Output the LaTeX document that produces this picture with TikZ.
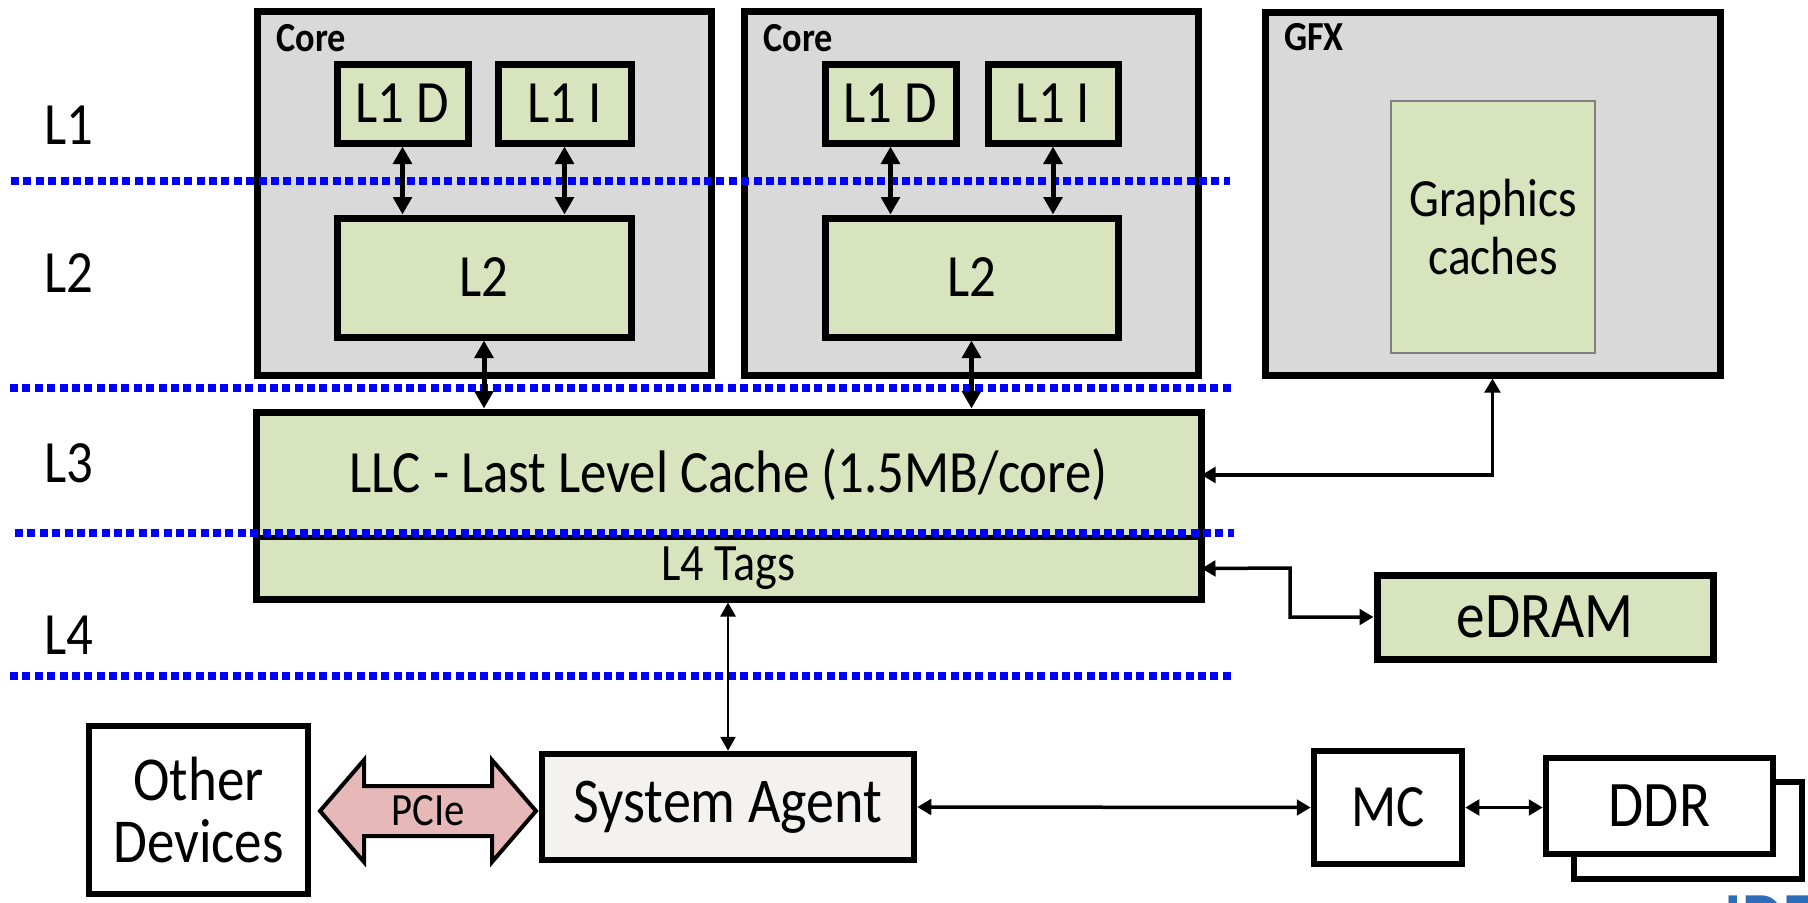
\documentclass[tikz,border=0pt]{standalone}
\usepackage{fontspec}
\setmainfont{Carlito}[FakeStretch=0.88]
\usetikzlibrary{arrows.meta,fit,calc}
\definecolor{coregray}{HTML}{D9D9D9}
\definecolor{cachegreen}{HTML}{D7E4BD}
\definecolor{pciepink}{HTML}{E6B9B8}
\definecolor{safill}{HTML}{F4F2EE}
\definecolor{idfblue}{HTML}{2E6DB8}
\begin{document}
\begin{tikzpicture}[x=0.4pt,y=-0.4pt,
  box/.style={draw=black, line width=2.8pt, inner sep=0pt},
  graybox/.style={box, fill=coregray},
  greenbox/.style={box, fill=cachegreen},
  whitebox/.style={draw=black, line width=2.6pt, inner sep=0pt, fill=white},
  bigtxt/.style={font=\fontsize{24}{28}\selectfont},
  lbltxt/.style={font=\bfseries\fontsize{16.5}{18}\selectfont, anchor=west, inner sep=0pt},
  lvl/.style={font=\fontsize{24}{28}\selectfont, anchor=west, inner sep=0pt},
  level/.style={draw=blue, line width=3.3pt, dash pattern=on 3.2pt off 1.75pt},
  thickconn/.style={line width=2pt, {Triangle[length=7pt,width=7.4pt]}-{Triangle[length=7pt,width=7.4pt]}},
  conn/.style={line width=1.4pt, {Triangle[length=5.6pt,width=6.2pt]}-{Triangle[length=5.6pt,width=6.2pt]}},
  thinconn/.style={line width=1.1pt, {Triangle[length=5.6pt,width=6pt]}-{Triangle[length=5.6pt,width=6pt]}}
]
\useasboundingbox (0,0) rectangle (1808,902);
\clip (0,0) rectangle (1808,902);

% level labels
\node[lvl] (lv1) at (44,125) {L1};
\node[lvl] (lv2) at (44,273) {L2};
\node[lvl] (lv3) at (44,463) {L3};
\node[lvl] (lv4) at (44,635) {L4};

% cores
\node[graybox, fit={(257,11) (711,375)}] (core1) {};
\node[lbltxt] (core1lbl) at (276,38) {Core};
\node[greenbox, fit={(337,64) (468,143)}] (l1d1) {};
\node[bigtxt] (l1d1t) at (l1d1.center) {L1 D};
\node[greenbox, fit={(498,64) (631,143)}] (l1i1) {};
\node[bigtxt] (l1i1t) at (l1i1.center) {L1 I};
\node[greenbox, fit={(337,218) (631,337)}] (l2a) {};
\node[bigtxt] (l2at) at (l2a.center) {L2};

\node[graybox, fit={(744,11) (1198,375)}] (core2) {};
\node[lbltxt] (core2lbl) at (763,38) {Core};
\node[greenbox, fit={(825,64) (956,143)}] (l1d2) {};
\node[bigtxt] (l1d2t) at (l1d2.center) {L1 D};
\node[greenbox, fit={(988,64) (1118,143)}] (l1i2) {};
\node[bigtxt] (l1i2t) at (l1i2.center) {L1 I};
\node[greenbox, fit={(825,218) (1118,337)}] (l2b) {};
\node[bigtxt] (l2bt) at (l2b.center) {L2};

% GFX
\node[graybox, fit={(1265,12) (1720,375)}] (gfx) {};
\node[lbltxt] (gfxlbl) at (1284,37) {GFX};
\node[draw=gray, line width=0.9pt, fill=cachegreen, inner sep=0pt, fit={(1391,101) (1595,353)}] (gcache) {};
\node[align=center, font=\fontsize{21.5}{23}\selectfont] (gctxt) at (gcache.center) {Graphics\\caches};

% LLC + L4 tags
\node[greenbox, fit={(256,412) (1201,599)}] (cache) {};
\node[inner sep=0pt, fit={(256,412) (1201,538)}] (llc) {};
\node[bigtxt] (llctxt) at (llc.center) {LLC - Last Level Cache (1.5MB/core)};
\node[inner sep=0pt, fit={(256,538) (1201,599)}] (l4tags) {};
\node[font=\fontsize{21}{24}\selectfont] (l4txt) at (l4tags.center) {L4 Tags};
\draw[line width=1.7pt] (l4tags.north west) -- (l4tags.north east);

% eDRAM
\node[greenbox, fit={(1377,575) (1713,659)}] (edram) {};
\node[font=\fontsize{26}{30}\selectfont] (edramt) at (edram.center) {eDRAM};

% bottom row
\node[whitebox, fit={(89,726) (308,894)}] (other) {};
\node[align=center, font=\fontsize{25}{24.5}\selectfont] (othertxt) at (other.center) {Other\\Devices};
\node[whitebox, fill=safill, fit={(542,754) (914,860)}] (sa) {};
\node[font=\fontsize{25.5}{29}\selectfont] (sat) at (sa.center) {System Agent};
\node[whitebox, fit={(1314,751) (1462,864)}] (mc) {};
\node[bigtxt] (mct) at (mc.center) {MC};
\node[whitebox, fit={(1574,782) (1802,879)}] (ddrback) {};
\node[whitebox, fit={(1546,758) (1773,854)}] (ddr) {};
\node[font=\fontsize{26}{30}\selectfont] (ddrt) at (ddr.center) {DDR};

% PCIe double arrow
\draw[line width=1.6pt, fill=pciepink, line join=miter]
  (320,811) -- (364,760) -- (364,786) -- (492,786) -- (492,760) -- (536,811)
  -- (492,862) -- (492,836) -- (364,836) -- (364,862) -- cycle;
\node[font=\fontsize{18.5}{21}\selectfont] (pcie) at (428,811) {PCIe};

% IDF logo (cut off at the lower edge, as in the original)
\node[anchor=north west, inner sep=0pt, text=idfblue, font=\bfseries\fontsize{30}{30}\selectfont] (idf) at (1724,895) {IDF};

% level separators
\draw[level] (11,181) -- (1230,181);
\draw[level] (10,388) -- (1231,388);
\draw[level] (15,533) -- (1234,533);
\draw[level] (10,676) -- (1235,676);

% connectors
\draw[thickconn] (l1d1.south) -- (l1d1.south |- l2a.north);
\draw[thickconn] (l1i1.south) -- (l1i1.south |- l2a.north);
\draw[thickconn] (l1d2.south) -- (l1d2.south |- l2b.north);
\draw[thickconn] (l1i2.south) -- (l1i2.south |- l2b.north);
\draw[thickconn] (l2a.south) -- (l2a.south |- cache.north);
\draw[thickconn] (l2b.south) -- (l2b.south |- cache.north);
\draw[conn] (gfx.south) |- (llc.east);
\coordinate (ebend) at (1290,568);
\draw[conn] (l4tags.east) -- (ebend) |- (edram.west);
\draw[thinconn] (cache.south -| sa.north) -- (sa.north);
\draw[conn] (sa.east) -- (mc.west);
\draw[conn] (mc.east) -- (mc.east -| ddr.west);
\end{tikzpicture}
\end{document}
